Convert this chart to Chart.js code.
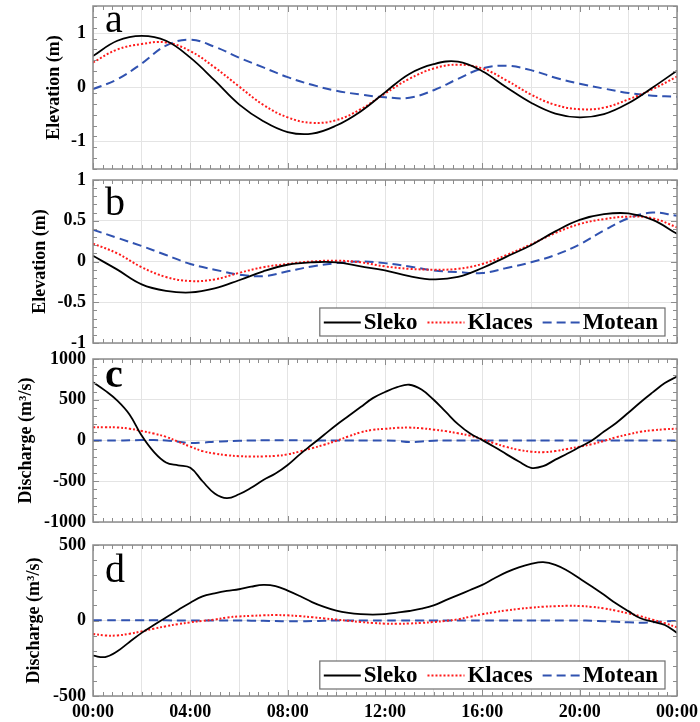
<!DOCTYPE html>
<html>
<head>
<meta charset="utf-8">
<title>Elevation and discharge</title>
<script src="https://cdn.jsdelivr.net/npm/chart.js@4.4.1/dist/chart.umd.min.js"></script>
<style>
  html, body { margin: 0; padding: 0; background: #fff; }
  #wrap { position: relative; width: 700px; height: 722px; overflow: hidden; background: #fff; }
  #wrap canvas { position: absolute; left: 0; }
</style>
</head>
<body>
<div id="wrap">
  <canvas id="panelA" width="700" height="185" style="top:0px"></canvas>
  <canvas id="panelB" width="700" height="190" style="top:168px"></canvas>
  <canvas id="panelC" width="700" height="190" style="top:346px"></canvas>
  <canvas id="panelD" width="700" height="190" style="top:532px"></canvas>
</div>
<script>
// ---- time axis (hours after 00:00) ----
const hoursHourly = [0, 1, 2, 3, 4, 5, 6, 7, 8, 9, 10, 11, 12, 13, 14, 15, 16, 17, 18, 19, 20, 21, 22, 23, 24];
const hoursHalf = [0, 0.5, 1, 1.5, 2, 2.5, 3, 3.5, 4, 4.5, 5, 5.5, 6, 6.5, 7, 7.5, 8, 8.5, 9, 9.5, 10, 10.5, 11, 11.5,
                   12, 12.5, 13, 13.5, 14, 14.5, 15, 15.5, 16, 16.5, 17, 17.5, 18, 18.5, 19, 19.5, 20, 20.5, 21, 21.5,
                   22, 22.5, 23, 23.5, 24];
const timeLabels = ['00:00', '04:00', '08:00', '12:00', '16:00', '20:00', '00:00'];
const seriesNames = ['Sleko', 'Klaces', 'Motean'];

// ---- panel a: elevation (m) ----
const slekoA  = [0.58, 0.86, 0.95, 0.86, 0.55, 0.13, -0.31, -0.62, -0.82, -0.85, -0.70, -0.44, -0.09, 0.25, 0.43, 0.475, 0.30, 0.0, -0.28, -0.48, -0.55, -0.49, -0.29, 0.0, 0.31];
const klacesA = [0.46, 0.70, 0.80, 0.83, 0.67, 0.37, 0.02, -0.32, -0.55, -0.65, -0.60, -0.40, -0.11, 0.16, 0.35, 0.42, 0.35, 0.13, -0.13, -0.32, -0.40, -0.37, -0.22, -0.03, 0.20];
const moteanA = [-0.03, 0.15, 0.44, 0.77, 0.88, 0.75, 0.55, 0.37, 0.19, 0.05, -0.06, -0.13, -0.18, -0.19, -0.05, 0.16, 0.35, 0.40, 0.32, 0.18, 0.07, -0.02, -0.10, -0.15, -0.17];
const yTicksA = [-1, 0, 1];

// ---- panel b: elevation (m) ----
const slekoB  = [0.07, -0.10, -0.28, -0.36, -0.38, -0.33, -0.23, -0.12, -0.04, -0.01, -0.01, -0.06, -0.11, -0.18, -0.22, -0.19, -0.08, 0.06, 0.20, 0.37, 0.51, 0.58, 0.59, 0.51, 0.34];
const klacesB = [0.22, 0.10, -0.07, -0.19, -0.24, -0.22, -0.14, -0.07, -0.03, 0.0, 0.01, -0.01, -0.06, -0.09, -0.10, -0.09, -0.03, 0.08, 0.21, 0.35, 0.46, 0.52, 0.55, 0.53, 0.42];
const moteanB = [0.39, 0.29, 0.19, 0.08, -0.03, -0.10, -0.16, -0.18, -0.12, -0.06, -0.02, 0.0, -0.02, -0.06, -0.11, -0.13, -0.14, -0.08, -0.01, 0.08, 0.21, 0.38, 0.53, 0.60, 0.56];
const yTicksB = [-1, -0.5, 0, 0.5, 1];

// ---- panel c: discharge (m³/s) ----
const slekoC  = [716, 612, 490, 320, 60, -140, -270, -305, -335, -500, -650, -708, -660, -580, -484, -405, -300, -170, -50, 70, 190, 300, 410, 520,
                 595, 655, 684, 625, 500, 350, 200, 85, 5, -80, -170, -258, -335, -315, -235, -160, -80, 0, 110, 215, 340, 470, 590, 705, 785];
const klacesC = [164, 163, 160, 145, 117, 85, 45, -15, -75, -130, -160, -180, -192, -197, -195, -189, -170, -135, -95, -52, -4, 50, 100, 131,
                 143, 155, 158, 150, 133, 115, 88, 60, 15, -35, -80, -115, -137, -143, -130, -103, -75, -45, -5, 40, 75, 108, 125, 138, 145];
const moteanC = [0, 0, 0, 2, 5, 5, 0, -15, -30, -25, -15, -8, -3, 0, 2, 3, 3, 2, 0, 0, 0, 0, 0, 0,
                 0, -5, -18, -12, -3, 0, 0, 0, 0, 0, 0, 0, 0, 0, 0, 0, 0, 0, 0, 0, 0, 0, 0, 0, 0];
const yTicksC = [-1000, -500, 0, 500, 1000];

// ---- panel d: discharge (m³/s) ----
const slekoD  = [-233, -242, -204, -142, -82, -30, 20, 70, 118, 160, 180, 196, 207, 224, 236, 228, 198, 162, 122, 90, 65, 50, 42, 39,
                 42, 52, 63, 78, 100, 135, 168, 202, 236, 280, 320, 352, 375, 386, 369, 330, 278, 225, 170, 112, 62, 15, -8, -30, -82];
const klacesD = [-90, -99, -99, -88, -72, -54, -38, -24, -12, -3, 6, 20, 27, 31, 34, 36, 34, 29, 22, 14, 6, -2, -10, -16,
                 -21, -22, -20, -16, -10, -3, 8, 25, 42, 55, 67, 77, 85, 91, 95, 97, 96, 90, 80, 65, 47, 28, 5, -18, -45];
const moteanD = [2, 2, 2, 2, 2, 2, 1, 0, 0, 0, 0, 0, 0, -1, -2, -4, -5, -5, -4, -2, 0, 0, 0, 0,
                 0, 0, 0, 0, 0, 0, 0, 0, 0, 0, 0, 0, 0, 0, 0, 0, 0, -2, -5, -8, -12, -15, -12, -5, -3];
const yTicksD = [-500, 0, 500];

// ---- styling ----
const SERIF = '"Liberation Serif", "Times New Roman", serif';
const FRAME = '#8c8c8c';
const GRID = '#e4e4e4';
const lineStyles = [
  { borderColor: '#000000', borderWidth: 1.8, borderDash: [] },
  { borderColor: '#ff1a1a', borderWidth: 2.0, borderDash: [2, 2] },
  { borderColor: '#3052b0', borderWidth: 2.0, borderDash: [9, 5] }
];

// frame, inward tick marks, panel letter and boxed legend
const panelDeco = {
  id: 'panelDeco',
  afterDatasetsDraw(chart, args, opts) {
    const { ctx, chartArea: a, scales: { x, y } } = chart;
    ctx.save();

    // inward tick marks on all four sides
    ctx.strokeStyle = FRAME;
    ctx.lineWidth = 1;
    ctx.beginPath();
    for (let k = 0; k <= 60; k++) {
      const px = Math.round(x.getPixelForValue(k * 0.4)) + 0.5;
      const len = (k % 10 === 0) ? 6 : 4;
      ctx.moveTo(px, a.top); ctx.lineTo(px, a.top + len);
      ctx.moveTo(px, a.bottom); ctx.lineTo(px, a.bottom - len);
    }
    const nY = Math.round((y.max - y.min) / opts.minorY);
    for (let k = 0; k <= nY; k++) {
      const v = y.min + k * opts.minorY;
      const py = Math.round(y.getPixelForValue(v)) + 0.5;
      const isMajor = y.ticks.some(t => Math.abs(t.value - v) < opts.minorY / 10);
      const len = isMajor ? 6 : 4;
      ctx.moveTo(a.left, py); ctx.lineTo(a.left + len, py);
      ctx.moveTo(a.right, py); ctx.lineTo(a.right - len, py);
    }
    ctx.stroke();

    // plot frame
    ctx.lineWidth = 1.5;
    ctx.strokeRect(a.left, a.top, a.right - a.left, a.bottom - a.top);

    // panel letter
    ctx.fillStyle = '#000';
    ctx.font = `${opts.letterWeight} 40px ${SERIF}`;
    ctx.textAlign = 'left';
    ctx.textBaseline = 'alphabetic';
    ctx.fillText(opts.letter, a.left + 12, a.top + opts.letterDy);

    // legend box
    if (opts.legend) {
      ctx.font = `bold 23px ${SERIF}`;
      const sample = 37, gapText = 3, gapItem = 10, padL = 4, padR = 7, boxH = 28;
      const items = chart.data.datasets.map(ds => ({ ds, w: ctx.measureText(ds.label).width }));
      const boxW = padL + items.reduce((s, it) => s + sample + gapText + it.w, 0) + gapItem * (items.length - 1) + padR;
      const bx = a.right - 12 - boxW;
      const by = a.bottom - 7 - boxH;
      ctx.fillStyle = '#fff';
      ctx.fillRect(bx, by, boxW, boxH);
      ctx.strokeStyle = '#6e6e6e';
      ctx.lineWidth = 1.2;
      ctx.strokeRect(bx, by, boxW, boxH);
      let cx = bx + padL;
      const cy = by + boxH / 2 + 0.5;
      items.forEach(it => {
        ctx.save();
        ctx.strokeStyle = it.ds.borderColor;
        ctx.lineWidth = it.ds.borderWidth;
        ctx.setLineDash(it.ds.borderDash || []);
        ctx.beginPath();
        ctx.moveTo(cx, cy); ctx.lineTo(cx + sample, cy);
        ctx.stroke();
        ctx.restore();
        cx += sample + gapText;
        ctx.fillStyle = '#000';
        ctx.textBaseline = 'middle';
        ctx.fillText(it.ds.label, cx, cy + 1);
        cx += it.w + gapItem;
      });
    }
    ctx.restore();
  }
};

function toXY(hours, values) {
  return hours.map((h, i) => ({ x: h, y: values[i] }));
}

function makePanel(id, p) {
  const datasets = p.series.map((vals, i) => Object.assign({
    label: seriesNames[i],
    data: toXY(p.hours, vals),
    pointRadius: 0,
    fill: false,
    tension: 0.4
  }, lineStyles[i]));

  return new Chart(document.getElementById(id), {
    type: 'line',
    data: { datasets },
    options: {
      responsive: false,
      animation: false,
      devicePixelRatio: 1,
      layout: { padding: { top: p.padTop, right: 23, bottom: 0, left: 0 } },
      plugins: {
        legend: { display: false },
        tooltip: { enabled: false },
        panelDeco: { letter: p.letter, letterWeight: p.letterWeight, letterDy: p.letterDy, minorY: p.minorY, legend: p.legend }
      },
      scales: {
        x: {
          type: 'linear',
          min: 0,
          max: 24,
          afterBuildTicks: s => { s.ticks = [0, 2, 4, 6, 8, 10, 12, 14, 16, 18, 20, 22, 24].map(v => ({ value: v })); },
          afterFit: s => { s.height = p.xHeight; s.paddingLeft = 0; s.paddingRight = 0; },
          grid: { color: GRID, lineWidth: 1, drawTicks: false },
          border: { display: false },
          ticks: {
            display: p.showX,
            autoSkip: false,
            maxRotation: 0,
            padding: 6,
            color: '#000',
            font: { family: SERIF, size: 18, weight: 'bold' },
            callback: v => (v % 4 === 0 ? timeLabels[v / 4] : '')
          }
        },
        y: {
          min: p.yMin,
          max: p.yMax,
          afterBuildTicks: s => { s.ticks = p.yTicks.map(v => ({ value: v })); },
          afterFit: s => { s.width = 93; s.paddingTop = 0; s.paddingBottom = 0; },
          grid: { color: GRID, lineWidth: 1, drawTicks: false },
          border: { display: false },
          ticks: {
            padding: 7,
            color: '#000',
            font: { family: SERIF, size: 18, weight: 'bold' },
            callback: v => String(v)
          },
          title: {
            display: true,
            text: p.yTitle,
            color: '#000',
            font: { family: SERIF, size: 18, weight: 'bold' },
            padding: { top: p.titlePad, bottom: 0 }
          }
        }
      }
    },
    plugins: [panelDeco]
  });
}

makePanel('panelA', {
  hours: hoursHourly, series: [slekoA, klacesA, moteanA],
  yMin: -1.5, yMax: 1.5, yTicks: yTicksA, minorY: 0.2,
  yTitle: 'Elevation (m)', titlePad: 44,
  padTop: 6, xHeight: 16, showX: false,
  letter: 'a', letterWeight: 'normal', letterDy: 26, legend: false
});
makePanel('panelB', {
  hours: hoursHourly, series: [slekoB, klacesB, moteanB],
  yMin: -1, yMax: 1, yTicks: yTicksB, minorY: 0.1,
  yTitle: 'Elevation (m)', titlePad: 30,
  padTop: 12, xHeight: 15, showX: false,
  letter: 'b', letterWeight: 'normal', letterDy: 35, legend: true
});
makePanel('panelC', {
  hours: hoursHalf, series: [slekoC, klacesC, moteanC],
  yMin: -1000, yMax: 1000, yTicks: yTicksC, minorY: 100,
  yTitle: 'Discharge (m³/s)', titlePad: 16,
  padTop: 13, xHeight: 14, showX: false,
  letter: 'c', letterWeight: 'bold', letterDy: 28, legend: false
});
makePanel('panelD', {
  hours: hoursHalf, series: [slekoD, klacesD, moteanD],
  yMin: -500, yMax: 500, yTicks: yTicksD, minorY: 100,
  yTitle: 'Discharge (m³/s)', titlePad: 24,
  padTop: 13, xHeight: 26, showX: true,
  letter: 'd', letterWeight: 'normal', letterDy: 37, legend: true
});
</script>
</body>
</html>
